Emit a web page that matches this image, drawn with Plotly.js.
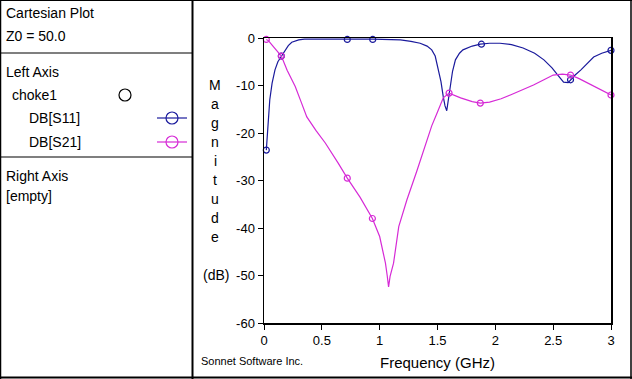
<!DOCTYPE html>
<html>
<head>
<meta charset="utf-8">
<script src="https://cdn.plot.ly/plotly-3.0.1.min.js"></script>
<style>html,body{margin:0;padding:0;background:#fff;}#chart{width:632px;height:379px;}</style>
</head>
<body>
<div id="chart"></div>
<script>
// ---- data ----
const s11Freq = [0.02, 0.035, 0.05, 0.07, 0.095, 0.12, 0.15, 0.18, 0.21, 0.24, 0.3, 0.35, 0.5, 0.72, 0.94, 1.1, 1.18, 1.27, 1.35, 1.41, 1.45, 1.48, 1.51, 1.53, 1.55, 1.565, 1.58, 1.595, 1.61, 1.63, 1.655, 1.69, 1.72, 1.8, 1.87, 1.95, 2.04, 2.14, 2.24, 2.34, 2.42, 2.49, 2.54, 2.59, 2.63, 2.65, 2.69, 2.74, 2.8, 2.85, 2.92, 3.0];
const s11dB = [-23.6, -18.5, -13.0, -9.5, -6.7, -5.0, -3.8, -2.5, -1.6, -0.9, -0.4, -0.25, -0.2, -0.25, -0.25, -0.3, -0.4, -0.7, -1.1, -1.7, -2.5, -3.8, -6.7, -9.2, -12.4, -14.3, -15.3, -13.0, -10.3, -7.0, -4.6, -3.2, -2.5, -1.7, -1.3, -1.1, -1.1, -1.4, -2.1, -3.2, -4.6, -6.3, -7.8, -9.3, -9.4, -8.8, -7.8, -6.7, -5.2, -4.0, -3.2, -2.6];
const s21Freq = [0.02, 0.04, 0.07, 0.1, 0.15, 0.2, 0.27, 0.32, 0.37, 0.45, 0.53, 0.64, 0.72, 0.83, 0.937, 1.0, 1.03, 1.05, 1.065, 1.077, 1.09, 1.12, 1.165, 1.235, 1.32, 1.37, 1.41, 1.45, 1.5, 1.55, 1.6, 1.7, 1.8, 1.87, 1.95, 2.05, 2.13, 2.23, 2.33, 2.42, 2.5, 2.58, 2.65, 2.72, 2.8, 2.9, 3.0];
const s21dB = [-0.3, -0.6, -1.5, -2.3, -3.8, -6.8, -10.2, -13.4, -16.6, -19.5, -22.1, -26.3, -29.5, -33.5, -38.0, -41.8, -44.8, -47.4, -50.0, -52.4, -50.2, -47.4, -39.7, -34.1, -28.1, -24.4, -21.0, -18.5, -15.6, -12.6, -11.6, -12.6, -13.4, -13.7, -13.5, -12.8, -12.0, -11.0, -9.9, -8.8, -7.8, -7.6, -7.8, -8.5, -9.5, -10.8, -12.0];
const s11MarkFreq = [0.02, 0.15, 0.72, 0.94, 1.88, 2.65, 3.0];
const s11MarkdB = [-23.6, -3.8, -0.3, -0.3, -1.3, -8.8, -2.6];
const s21MarkFreq = [0.02, 0.15, 0.72, 0.937, 1.6, 1.87, 2.65, 3.0];
const s21MarkdB = [-0.3, -3.8, -29.5, -38.0, -11.6, -13.7, -7.8, -12.0];
const xTickVals = [0, 0.5, 1, 1.5, 2, 2.5, 3];
const xTickText = ["0", "0.5", "1", "1.5", "2", "2.5", "3"];
const yTickVals = [0, -10, -20, -30, -40, -50, -60];
const yTickText = ["0", "-10", "-20", "-30", "-40", "-50", "-60"];
const seriesNames = ["DB[S11]", "DB[S21]"];
const yTitleLetters = ["M", "a", "g", "n", "i", "t", "u", "d", "e"];

// ---- styles / geometry ----
const BLUE = "#1a1a9c";
const MAG = "#d62ad6";
const W = 632, H = 379;
const L = 264, R = 611, T = 38, B = 323;
const px = x => (x - L) / (R - L);
const py = y => (B - y) / (B - T);
const FONT = "Liberation Sans, Arial, sans-serif";

const traces = [
  {x: s11Freq, y: s11dB, mode: "lines", line: {color: BLUE, width: 1.2}, name: seriesNames[0], hoverinfo: "skip"},
  {x: s21Freq, y: s21dB, mode: "lines", line: {color: MAG, width: 1.2}, name: seriesNames[1], hoverinfo: "skip"},
  {x: s11MarkFreq, y: s11MarkdB, mode: "markers", marker: {symbol: "circle-open", size: 6, color: BLUE, line: {width: 1.2}}, cliponaxis: false},
  {x: s21MarkFreq, y: s21MarkdB, mode: "markers", marker: {symbol: "circle-open", size: 6, color: MAG, line: {width: 1.2}}, cliponaxis: false}
];

const ann = [];
function txt(t, x, y, size, xanchor) {
  ann.push({text: t, xref: "paper", yref: "paper", x: px(x), y: py(y), xanchor: xanchor || "left", yanchor: "middle",
    showarrow: false, font: {family: FONT, size: size, color: "#000"}});
}
txt("Cartesian Plot", 4, 13, 14);
txt("Z0 = 50.0", 4, 36, 14);
txt("Left Axis", 4, 72, 14);
txt("choke1", 10, 95, 14);
txt(seriesNames[0], 27, 118, 14);
txt(seriesNames[1], 27, 142, 14);
txt("Right Axis", 4, 176, 14);
txt("[empty]", 4, 196, 14);
yTitleLetters.forEach((c, i) => txt(c, 215, 85 + i * 19, 14, "center"));
txt("(dB)", 216, 275, 14, "center");
txt("Frequency (GHz)", 437, 362, 15, "center");
txt("Sonnet Software Inc.", 199, 361, 11);

const shapes = [];
function line(x0, y0, x1, y1, color, w) {
  shapes.push({type: "line", xref: "paper", yref: "paper", x0: px(x0), y0: py(y0), x1: px(x1), y1: py(y1), line: {color: color, width: w}});
}
function circ(cx, cy, r, color) {
  shapes.push({type: "circle", xref: "paper", yref: "paper", x0: px(cx - r), x1: px(cx + r), y0: py(cy + r), y1: py(cy - r), line: {color: color, width: 1.2}});
}
// frame of the whole picture
line(0, 0.5, 632, 0.5, "#000", 1);
line(0.5, 0, 0.5, 379, "#000", 1.5);
line(631, 0, 631, 379, "#000", 1.5);
line(0, 377.5, 632, 377.5, "#000", 2);
line(192.5, 0, 192.5, 379, "#000", 2);
line(0, 53, 193, 53, "#000", 1.2);
line(0, 157, 193, 157, "#000", 1.2);
// legend symbols
circ(125, 95, 6, "#000");
line(157, 118, 187, 118, BLUE, 1.2); circ(172, 118, 6, BLUE);
line(157, 142, 187, 142, MAG, 1.2); circ(172, 142, 6, MAG);

const layout = {
  width: W, height: H,
  margin: {l: L, r: W - R, t: T, b: H - B, pad: 0},
  paper_bgcolor: "#fff", plot_bgcolor: "#fff",
  showlegend: false,
  font: {family: FONT, size: 13, color: "#000"},
  xaxis: {range: [0, 3], tickvals: xTickVals, ticktext: xTickText, ticks: "outside", ticklen: 5, tickcolor: "#000",
    showgrid: false, zeroline: false, showline: true, mirror: true, linecolor: "#000", linewidth: 1.5,
    tickfont: {family: FONT, size: 13}, fixedrange: true},
  yaxis: {range: [-60, 0], tickvals: yTickVals, ticktext: yTickText, ticks: "outside", ticklen: 5, tickcolor: "#000",
    showgrid: false, zeroline: false, showline: true, mirror: true, linecolor: "#000", linewidth: 1.5,
    tickfont: {family: FONT, size: 13}, fixedrange: true},
  annotations: ann,
  shapes: shapes
};
Plotly.newPlot("chart", traces, layout, {staticPlot: true, displayModeBar: false});
</script>
</body>
</html>
